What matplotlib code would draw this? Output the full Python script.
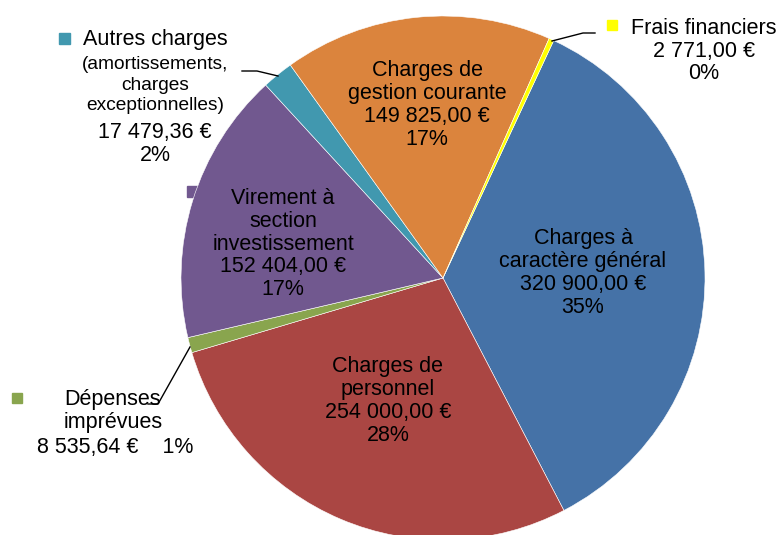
import matplotlib
matplotlib.use('Agg')
import matplotlib.pyplot as plt

plt.rcParams['font.family'] = ['Liberation Sans', 'DejaVu Sans']

# data, in pie order (clockwise from the top right)
names = ["Charges à\ncaractère général", "Charges de\npersonnel", "Dépenses\nimprévues",
         "Virement à\nsection\ninvestissement", "Autres charges", "Charges de\ngestion courante",
         "Frais financiers"]
values = [320900.00, 254000.00, 8535.64, 152404.00, 17479.36, 149825.00, 2771.00]
colors = ["#4572A7", "#AA4643", "#89A54E", "#71588F", "#4198AF", "#DB843D", "#FFFF00"]
autres_note = "(amortissements,\ncharges\nexceptionnelles)"

W, H = 781, 535

def euro(v):
	s = f"{v:,.2f}"
	return s.replace(",", " ").replace(".", ",") + " €"

def py(y):
	# pixel row -> data y
	return H - y

total = sum(values)
pcts = [round(v / total * 100) for v in values]

fig = plt.figure(figsize=(W / 100, H / 100), dpi=100)
ax = fig.add_axes([0, 0, 1, 1])

# legend key of the virement label, partly hidden behind the pie
ax.add_patch(plt.Rectangle((187, py(197)), 11, 11, color=colors[3], zorder=0))

ax.pie(values, colors=colors, startangle=65, counterclock=False,
	center=(443, py(278)), radius=262,
	wedgeprops=dict(edgecolor="white", linewidth=0.4))

ax.set_xlim(0, W)
ax.set_ylim(0, H)
ax.set_aspect('equal')
ax.axis('off')

fs = 15.5
fs_small = 13.8

# labels inside the pie
inside = {0: (583, 273), 1: (388, 401), 3: (283, 244), 5: (427, 105)}
for i, (x, y) in inside.items():
	txt = names[i] + "\n" + euro(values[i]) + "\n" + f"{pcts[i]}%"
	ax.text(x, py(y), txt, ha="center", va="center", fontsize=fs, linespacing=1.12, zorder=5)

# frais financiers
ax.text(704, py(51), names[6] + "\n" + euro(values[6]) + "\n" + f"{pcts[6]}%",
	ha="center", va="center", fontsize=fs, linespacing=1.12)
ax.add_patch(plt.Rectangle((607, py(30)), 10, 10, color=colors[6]))
ax.plot([552, 583, 595], [py(41), py(33), py(33)], color="black", lw=1)

# autres charges
ax.text(155, py(40), names[4], ha="center", va="center", fontsize=fs)
ax.text(155, py(85), autres_note, ha="center", va="center", fontsize=fs_small, linespacing=1.3)
ax.text(155, py(144), euro(values[4]) + "\n" + f"{pcts[4]}%", ha="center", va="center",
	fontsize=fs, linespacing=1.12)
ax.add_patch(plt.Rectangle((59, py(44)), 11, 11, color=colors[4]))
ax.plot([278, 257, 242], [py(76), py(71), py(71)], color="black", lw=1)

# dépenses imprévues
ax.text(113, py(411), names[2], ha="center", va="center", fontsize=fs, linespacing=1.12)
ax.text(115, py(448), euro(values[2]) + "    " + f"{pcts[2]}%", ha="center", va="center", fontsize=fs)
ax.add_patch(plt.Rectangle((12, py(403)), 10, 10, color=colors[2]))
ax.plot([190, 158, 148], [py(347), py(404), py(404)], color="black", lw=1)

fig.savefig("out.png", dpi=100)
